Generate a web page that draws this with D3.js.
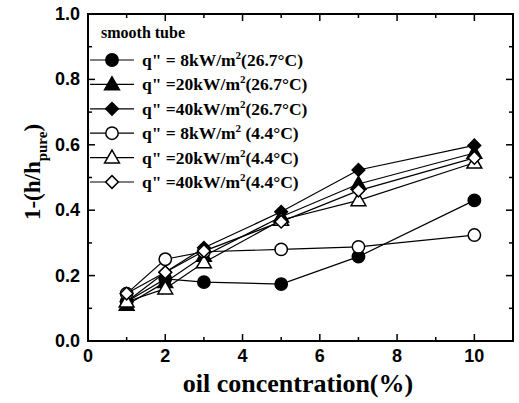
<!DOCTYPE html>
<html><head><meta charset="utf-8">
<script src="https://cdn.jsdelivr.net/npm/d3@7"></script>
<style>body{margin:0;background:#fff}</style>
</head><body>
<svg id="c" width="519" height="403"></svg>
<script>
const xValues = [1, 2, 3, 5, 7, 10];
const s1 = [0.12, 0.19, 0.18, 0.174, 0.258, 0.43];   // 8kW 26.7 filled circle
const s2 = [0.11, 0.18, 0.26, 0.38, 0.48, 0.575];    // 20kW 26.7 filled triangle
const s3 = [0.12, 0.21, 0.285, 0.395, 0.523, 0.598]; // 40kW 26.7 filled diamond
const s4 = [0.145, 0.25, 0.273, 0.28, 0.288, 0.324]; // 8kW 4.4 open circle
const s5 = [0.12, 0.16, 0.24, 0.37, 0.43, 0.545];    // 20kW 4.4 open triangle
const s6 = [0.145, 0.21, 0.275, 0.365, 0.46, 0.56];  // 40kW 4.4 open diamond
const seriesNames = [
  ["q\" =  8kW/m", "2", "(26.7°C)"],
  ["q\" =20kW/m", "2", "(26.7°C)"],
  ["q\" =40kW/m", "2", "(26.7°C)"],
  ["q\" = 8kW/m", "2", " (4.4°C)"],
  ["q\" =20kW/m", "2", "(4.4°C)"],
  ["q\" =40kW/m", "2", "(4.4°C)"]
];
const xTicks = [0, 2, 4, 6, 8, 10];
const yTicks = [0.0, 0.2, 0.4, 0.6, 0.8, 1.0];
const legendTitle = "smooth tube";

const series = [
  {v: s1, shape: "circle", fill: "#000"},
  {v: s2, shape: "triangle", fill: "#000"},
  {v: s3, shape: "diamond", fill: "#000"},
  {v: s4, shape: "circle", fill: "#fff"},
  {v: s5, shape: "triangle", fill: "#fff"},
  {v: s6, shape: "diamond", fill: "#fff"}
];

const svg = d3.select("#c");
const L = 88, R = 513, T = 14, B = 341;
const x = d3.scaleLinear().domain([0, 11]).range([L, R]);
const y = d3.scaleLinear().domain([0, 1]).range([B, T]);

const symPath = {
  circle: d3.symbol().type(d3.symbolCircle).size(120)(),
  triangle: d3.symbol().type(d3.symbolTriangle).size(95)(),
  diamond: d3.symbol().type(d3.symbolSquare).size(80)()
};
const symT = (shape, cx, cy) => shape === "diamond" ? `translate(${cx},${cy}) rotate(45)`
  : shape === "triangle" ? `translate(${cx},${cy + 1})` : `translate(${cx},${cy})`;

const line = d3.line().x((d, i) => x(xValues[i])).y(d => y(d));
series.forEach(s => {
  svg.append("path").attr("d", line(s.v)).attr("fill", "none").attr("stroke", "#000").attr("stroke-width", 1.2);
});
series.forEach(s => {
  svg.selectAll(null).data(s.v).enter().append("path")
    .attr("d", symPath[s.shape])
    .attr("transform", (d, i) => symT(s.shape, x(xValues[i]), y(d)))
    .attr("fill", s.fill).attr("stroke", "#000").attr("stroke-width", 1.5);
});

// frame
svg.append("rect").attr("x", L).attr("y", T).attr("width", R - L).attr("height", B - T)
  .attr("fill", "none").attr("stroke", "#000").attr("stroke-width", 2);

// ticks (inward)
const xMajor = d3.range(0, 12, 2), xMinor = d3.range(1, 11, 2);
const yMajor = d3.range(0, 11, 2).map(d => d / 10), yMinor = d3.range(1, 10, 2).map(d => d / 10);
const tk = svg.append("g").attr("stroke", "#000").attr("stroke-width", 1.5);
xMajor.forEach(v => { tk.append("line").attr("x1", x(v)).attr("x2", x(v)).attr("y1", B).attr("y2", B - 7);
  tk.append("line").attr("x1", x(v)).attr("x2", x(v)).attr("y1", T).attr("y2", T + 7); });
xMinor.forEach(v => { tk.append("line").attr("x1", x(v)).attr("x2", x(v)).attr("y1", B).attr("y2", B - 4);
  tk.append("line").attr("x1", x(v)).attr("x2", x(v)).attr("y1", T).attr("y2", T + 4); });
yMajor.forEach(v => { tk.append("line").attr("x1", L).attr("x2", L + 7).attr("y1", y(v)).attr("y2", y(v));
  tk.append("line").attr("x1", R).attr("x2", R - 7).attr("y1", y(v)).attr("y2", y(v)); });
yMinor.forEach(v => { tk.append("line").attr("x1", L).attr("x2", L + 4).attr("y1", y(v)).attr("y2", y(v));
  tk.append("line").attr("x1", R).attr("x2", R - 4).attr("y1", y(v)).attr("y2", y(v)); });

// tick labels
const tf = "'Liberation Sans', Arial, sans-serif";
svg.selectAll(null).data(xTicks).enter().append("text")
  .attr("x", d => x(d)).attr("y", 362).attr("text-anchor", "middle")
  .attr("font-family", tf).attr("font-weight", "bold").attr("font-size", 18).text(d => d);
svg.selectAll(null).data(yTicks).enter().append("text")
  .attr("x", 80).attr("y", d => y(d) + 6).attr("text-anchor", "end")
  .attr("font-family", tf).attr("font-weight", "bold").attr("font-size", 18).text(d => d.toFixed(1));

// axis titles
const sf = "'Liberation Serif', 'Times New Roman', serif";
svg.append("text").attr("x", 298).attr("y", 392).attr("text-anchor", "middle")
  .attr("font-family", sf).attr("font-weight", "bold").attr("font-size", 26).text("oil concentration(%)");
const yt = svg.append("text").attr("transform", "translate(40,172) rotate(-90)").attr("text-anchor", "middle")
  .attr("font-family", sf).attr("font-weight", "bold").attr("font-size", 23);
yt.append("tspan").text("1-(h/h");
yt.append("tspan").attr("font-size", 15).attr("dy", 7).text("pure");
yt.append("tspan").attr("dy", -7).text(")");

// legend
svg.append("text").attr("x", 101).attr("y", 38).attr("font-family", sf).attr("font-weight", "bold")
  .attr("font-size", 16).text(legendTitle);
series.forEach((s, i) => {
  const ly = 60 + i * 24.4;
  svg.append("line").attr("x1", 90).attr("x2", 134).attr("y1", ly).attr("y2", ly).attr("stroke", "#000").attr("stroke-width", 1.2);
  svg.append("path").attr("d", symPath[s.shape]).attr("transform", symT(s.shape, 112, ly))
    .attr("fill", s.fill).attr("stroke", "#000").attr("stroke-width", 1.5);
  const t = svg.append("text").attr("x", 142).attr("y", ly + 6).attr("font-family", sf).attr("font-weight", "bold").attr("font-size", 17.5);
  t.append("tspan").text(seriesNames[i][0]);
  t.append("tspan").attr("font-size", 11).attr("dy", -7).text(seriesNames[i][1]);
  t.append("tspan").attr("dy", 7).text(seriesNames[i][2]);
});
</script>
</body></html>
